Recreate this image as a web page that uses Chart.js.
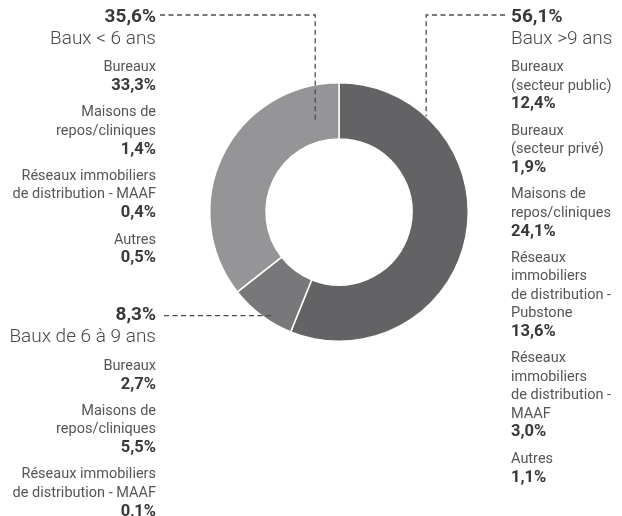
<!DOCTYPE html>
<html>
<head>
<meta charset="utf-8">
<script src="https://cdn.jsdelivr.net/npm/chart.js@4"></script>
<style>
  html, body { margin: 0; padding: 0; background: #fff; }
  #wrap { width: 622px; height: 516px; }
</style>
</head>
<body>
<div id="wrap"><canvas id="bauxChart" width="622" height="516"></canvas></div>
<script>
// Répartition des baux par durée résiduelle
const categories = ['Baux >9 ans', 'Baux de 6 à 9 ans', 'Baux < 6 ans'];
const shares = [56.1, 8.3, 35.6];
const sliceColors = ['#636365', '#78787b', '#959598'];

// détail Baux >9 ans
const longLabels = [['Bureaux', '(secteur public)'], ['Bureaux', '(secteur privé)'], ['Maisons de', 'repos/cliniques'],
    ['Réseaux', 'immobiliers', 'de distribution -', 'Pubstone'], ['Réseaux', 'immobiliers', 'de distribution -', 'MAAF'], ['Autres']];
const longValues = [12.4, 1.9, 24.1, 13.6, 3.0, 1.1];

// détail Baux de 6 à 9 ans
const midLabels = [['Bureaux'], ['Maisons de', 'repos/cliniques'], ['Réseaux immobiliers', 'de distribution - MAAF']];
const midValues = [2.7, 5.5, 0.1];

// détail Baux < 6 ans
const shortLabels = [['Bureaux'], ['Maisons de', 'repos/cliniques'], ['Réseaux immobiliers', 'de distribution - MAAF'], ['Autres']];
const shortValues = [33.3, 1.4, 0.4, 0.5];

const FONT = 'Roboto, "Noto Sans", sans-serif';
const fmt = v => v.toFixed(1).replace('.', ',') + '%';

// point dans un secteur : t = position le long de l'arc, rf = position dans l'épaisseur
function anchor(arc, t, rf) {
    const p = arc.getProps(['x', 'y', 'startAngle', 'endAngle', 'innerRadius', 'outerRadius'], true);
    const a = p.startAngle + t * (p.endAngle - p.startAngle);
    const r = p.innerRadius + rf * (p.outerRadius - p.innerRadius);
    return { x: p.x + r * Math.cos(a), y: p.y + r * Math.sin(a) };
}

function drawBlock(ctx, x, align, y, pct, title, labels, values) {
    ctx.textAlign = align;
    ctx.textBaseline = 'middle';
    ctx.fillStyle = '#38383a';
    ctx.font = 'bold 19px ' + FONT;
    ctx.fillText(fmt(pct), x, y);
    ctx.fillStyle = '#48484a';
    ctx.font = '300 19px ' + FONT;
    ctx.fillText(title, x, y + 22);
    let yy = y + 50.5;
    labels.forEach((lines, i) => {
        ctx.fillStyle = '#555557';
        ctx.font = '14.5px ' + FONT;
        lines.forEach(l => { ctx.fillText(l, x, yy); yy += 18.4; });
        ctx.fillStyle = '#38383a';
        ctx.font = 'bold 16.5px ' + FONT;
        ctx.fillText(fmt(values[i]), x, yy);
        yy += 18.4 + 8.4;
    });
}

const leaderPlugin = {
    id: 'leaders',
    afterDraw(chart) {
        const ctx = chart.ctx;
        const arcs = chart.getDatasetMeta(0).data;
        ctx.save();
        ctx.strokeStyle = '#4d4d4f';
        ctx.lineWidth = 1.3;
        ctx.setLineDash([5, 3.5]);

        // Baux >9 ans
        const p0 = anchor(arcs[0], 0.21, 1.0);
        ctx.beginPath();
        ctx.moveTo(505, 15); ctx.lineTo(p0.x, 15); ctx.lineTo(p0.x, p0.y);
        ctx.stroke();

        // Baux < 6 ans
        const p2 = anchor(arcs[2], 0.884, 0.35);
        ctx.beginPath();
        ctx.moveTo(160, 15); ctx.lineTo(p2.x, 15); ctx.lineTo(p2.x, p2.y);
        ctx.stroke();

        // Baux de 6 à 9 ans
        const p1 = anchor(arcs[1], 0.36, 0.89);
        ctx.beginPath();
        ctx.moveTo(164, p1.y); ctx.lineTo(p1.x, p1.y);
        ctx.stroke();
        ctx.setLineDash([]);

        drawBlock(ctx, 511, 'left', 17, shares[0], categories[0], longLabels, longValues);
        drawBlock(ctx, 156, 'right', 17, shares[2], categories[2], shortLabels, shortValues);
        drawBlock(ctx, 156, 'right', p1.y, shares[1], categories[1], midLabels, midValues);
        ctx.restore();
    }
};

const ctx = document.getElementById('bauxChart').getContext('2d');
new Chart(ctx, {
    type: 'doughnut',
    data: {
        labels: categories,
        datasets: [{
            data: shares,
            backgroundColor: sliceColors,
            borderColor: '#ffffff',
            borderWidth: 1.5,
            hoverOffset: 0
        }]
    },
    options: {
        responsive: false,
        animation: false,
        cutout: '56.5%',
        layout: { padding: { left: 209, right: 153, top: 82, bottom: 174 } },
        plugins: {
            legend: { display: false },
            tooltip: { enabled: false }
        }
    },
    plugins: [leaderPlugin]
});
</script>
</body>
</html>
